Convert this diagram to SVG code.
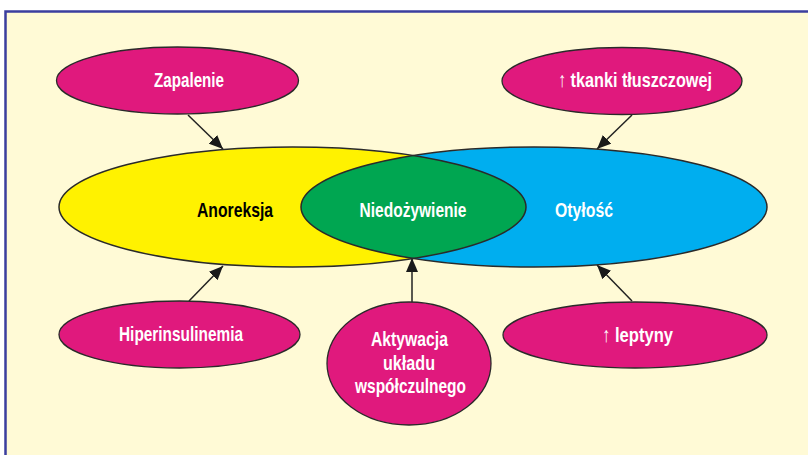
<svg xmlns="http://www.w3.org/2000/svg" width="808" height="455" viewBox="0 0 808 455">
<style>
.pink{fill:#e0197d;stroke:#2a2a2a;stroke-width:1.3}
.t{font-family:"Liberation Sans",Arial,sans-serif;font-weight:bold;font-size:21px;fill:#fff;text-anchor:middle}
.c{stroke:#222;stroke-width:1.5;fill:none;marker-end:url(#ah)}
.o{fill:none;stroke:#2a2a2a;stroke-width:1.5}
</style>
<defs>
<marker id="ah" viewBox="0 0 14 12" refX="14" refY="6" markerWidth="14" markerHeight="12" markerUnits="userSpaceOnUse" orient="auto">
<path d="M0,0 L14,6 L0,12 Z" fill="#1a1a1a"/>
</marker>
<clipPath id="yc"><ellipse cx="292.5" cy="207" rx="233.5" ry="60"/></clipPath>
</defs>
<rect x="5.5" y="11.5" width="820" height="460" fill="#fffad6" stroke="#3b3e9e" stroke-width="2.5"/>
<g id="connectors">
<line class="c" x1="188" y1="115" x2="223" y2="149"/>
<line class="c" x1="632" y1="115" x2="597" y2="149"/>
<line class="c" x1="189" y1="301" x2="223" y2="266"/>
<line class="c" x1="412" y1="302" x2="412" y2="258"/>
<line class="c" x1="632" y1="301" x2="597" y2="265"/>
</g>
<g id="anoreksja">
<ellipse cx="292.5" cy="207" rx="233.5" ry="60" fill="#fff200"/>
</g>
<g id="otylosc">
<ellipse cx="534" cy="207" rx="233" ry="60" fill="#00aeef"/>
</g>
<g id="niedozywienie">
<ellipse cx="534" cy="207" rx="233" ry="60" fill="#00a651" clip-path="url(#yc)"/>
</g>
<ellipse class="o" cx="292.5" cy="207" rx="233.5" ry="60"/>
<ellipse class="o" cx="534" cy="207" rx="233" ry="60"/>
<text class="t" x="235" y="217" textLength="76" lengthAdjust="spacingAndGlyphs" style="fill:#000">Anoreksja</text>
<text class="t" x="413" y="217" textLength="107" lengthAdjust="spacingAndGlyphs">Niedożywienie</text>
<text class="t" x="584" y="217" textLength="58" lengthAdjust="spacingAndGlyphs">Otyłość</text>
<g id="zapalenie">
<ellipse class="pink" cx="177.5" cy="80.5" rx="121" ry="33.5"/>
<text class="t" x="189" y="87" textLength="70" lengthAdjust="spacingAndGlyphs">Zapalenie</text>
</g>
<g id="tkanki">
<ellipse class="pink" cx="622" cy="81" rx="120" ry="33.5"/>
<text class="t" x="635" y="87" textLength="154" lengthAdjust="spacingAndGlyphs">↑ tkanki tłuszczowej</text>
</g>
<g id="hiperinsulinemia">
<ellipse class="pink" cx="179.5" cy="334.5" rx="120.5" ry="33.5"/>
<text class="t" x="181" y="341" textLength="124" lengthAdjust="spacingAndGlyphs">Hiperinsulinemia</text>
</g>
<g id="aktywacja">
<ellipse class="pink" cx="409" cy="363.5" rx="82" ry="61.5"/>
<text class="t" x="409.5" y="346" textLength="77" lengthAdjust="spacingAndGlyphs">Aktywacja</text>
<text class="t" x="409" y="369.5" textLength="52" lengthAdjust="spacingAndGlyphs">układu</text>
<text class="t" x="410.5" y="393" textLength="111" lengthAdjust="spacingAndGlyphs">współczulnego</text>
</g>
<g id="leptyny">
<ellipse class="pink" cx="635" cy="335" rx="132" ry="33"/>
<text class="t" x="637.5" y="342" textLength="71" lengthAdjust="spacingAndGlyphs">↑ leptyny</text>
</g>
</svg>
